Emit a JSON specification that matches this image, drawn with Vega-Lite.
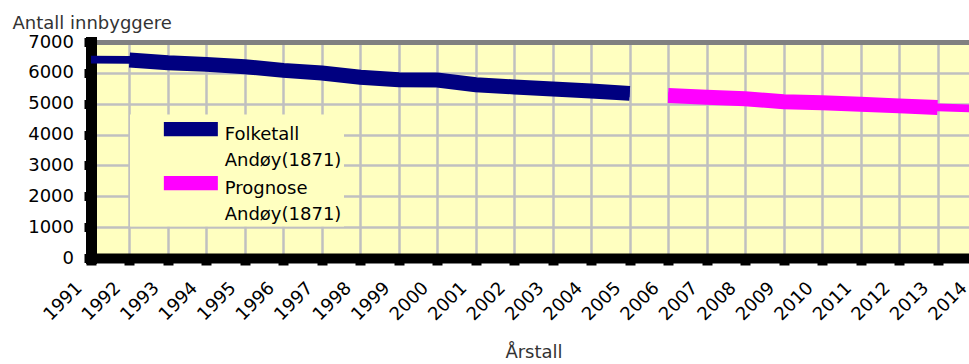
{
  "$schema": "https://vega.github.io/schema/vega-lite/v6.json",
  "autosize": {"type": "none"},
  "padding": {"left": 91, "top": 42, "right": 0, "bottom": 106},
  "width": 878,
  "height": 216,
  "background": "white",
  "data": {
    "values": [
      {"year": 1991, "value": 6430, "series": "Folketall Andøy(1871)"},
      {"year": 1992, "value": 6420, "series": "Folketall Andøy(1871)"},
      {"year": 1993, "value": 6330, "series": "Folketall Andøy(1871)"},
      {"year": 1994, "value": 6275, "series": "Folketall Andøy(1871)"},
      {"year": 1995, "value": 6200, "series": "Folketall Andøy(1871)"},
      {"year": 1996, "value": 6080, "series": "Folketall Andøy(1871)"},
      {"year": 1997, "value": 5995, "series": "Folketall Andøy(1871)"},
      {"year": 1998, "value": 5860, "series": "Folketall Andøy(1871)"},
      {"year": 1999, "value": 5775, "series": "Folketall Andøy(1871)"},
      {"year": 2000, "value": 5765, "series": "Folketall Andøy(1871)"},
      {"year": 2001, "value": 5615, "series": "Folketall Andøy(1871)"},
      {"year": 2002, "value": 5545, "series": "Folketall Andøy(1871)"},
      {"year": 2003, "value": 5475, "series": "Folketall Andøy(1871)"},
      {"year": 2004, "value": 5410, "series": "Folketall Andøy(1871)"},
      {"year": 2005, "value": 5335, "series": "Folketall Andøy(1871)"},
      {"year": 2006, "value": 5265, "series": "Prognose Andøy(1871)"},
      {"year": 2007, "value": 5210, "series": "Prognose Andøy(1871)"},
      {"year": 2008, "value": 5160, "series": "Prognose Andøy(1871)"},
      {"year": 2009, "value": 5065, "series": "Prognose Andøy(1871)"},
      {"year": 2010, "value": 5035, "series": "Prognose Andøy(1871)"},
      {"year": 2011, "value": 4985, "series": "Prognose Andøy(1871)"},
      {"year": 2012, "value": 4930, "series": "Prognose Andøy(1871)"},
      {"year": 2013, "value": 4880, "series": "Prognose Andøy(1871)"},
      {"year": 2014, "value": 4840, "series": "Prognose Andøy(1871)"}
    ]
  },
  "encoding": {
    "x": {
      "field": "year",
      "type": "quantitative",
      "scale": {"domain": [1991, 2014], "range": [0, 885], "nice": false, "zero": false},
      "axis": {
        "values": [1991,1992,1993,1994,1995,1996,1997,1998,1999,2000,2001,2002,2003,2004,2005,2006,2007,2008,2009,2010,2011,2012,2013,2014],
        "format": "d",
        "labelAngle": -45,
        "labelAlign": "right",
        "labelBaseline": "middle",
        "labelOffset": -12,
        "labelPadding": 20,
        "labelOverlap": false,
        "labelFlush": false,
        "labelBound": false,
        "tickSize": 7,
        "tickWidth": 10,
        "tickColor": "black",
        "domainColor": "black",
        "domainWidth": 10,
        "domainCap": "square",
        "grid": true,
        "gridColor": "#C0C0C0",
        "gridWidth": 2.5,
        "title": "Årstall",
        "titleBaseline": "alphabetic",
        "titleY": 99
      }
    },
    "y": {
      "field": "value",
      "type": "quantitative",
      "scale": {"domain": [0, 7000], "nice": false},
      "axis": {
        "values": [0,1000,2000,3000,4000,5000,6000,7000],
        "format": "d",
        "labelPadding": 10.5,
        "labelBaseline": "middle",
        "tickSize": 7,
        "tickWidth": 9,
        "tickColor": "black",
        "domainColor": "black",
        "domainWidth": 11,
        "domainCap": "square",
        "grid": true,
        "gridColor": {"condition": {"test": "datum.value == 7000", "value": "#808080"}, "value": "#C0C0C0"},
        "gridWidth": {"condition": {"test": "datum.value == 7000", "value": 5}, "value": 2.5},
        "title": "Antall innbyggere",
        "titleAngle": 0,
        "titleAlign": "left",
        "titleBaseline": "alphabetic",
        "titleX": -79,
        "titleY": -14
      }
    },
    "color": {
      "field": "series",
      "type": "nominal",
      "scale": {"domain": ["Folketall Andøy(1871)", "Prognose Andøy(1871)"], "range": ["#000080", "#FF00FF"]},
      "legend": {
        "orient": "none",
        "legendX": 39,
        "legendY": 72.5,
        "title": null,
        "fillColor": "#FFFFC0",
        "padding": 2,
        "symbolType": "M-27,3.65H27",
        "symbolSize": 4,
        "symbolStrokeWidth": 14.3,
        "symbolOffset": 49.85,
        "labelOffset": 24.85,
        "labelBaseline": "top",
        "labelExpr": "split(datum.label, ' ')",
        "labelFont": "DejaVu Sans",
        "labelFontSize": 18,
        "labelColor": "black",
        "labelLimit": 300,
        "rowPadding": -18.3
      }
    }
  },
  "layer": [
    {"mark": {"type": "line", "strokeWidth": 7.6, "strokeJoin": "miter", "strokeCap": "butt"}},
    {
      "transform": [{"filter": "datum.year >= 1992 && datum.year <= 2013"}],
      "mark": {"type": "line", "strokeWidth": 15, "strokeJoin": "miter", "strokeCap": "butt"}
    }
  ],
  "config": {
    "font": "DejaVu Sans",
    "view": {"fill": "#FFFFC0", "stroke": null},
    "axis": {
      "labelFont": "DejaVu Sans",
      "labelFontSize": 18,
      "labelColor": "black",
      "titleFont": "DejaVu Sans",
      "titleFontSize": 18,
      "titleFontWeight": "normal",
      "titleColor": "#333333"
    },
    "style": {"guide-label": {"lineHeight": 26.5}}
  }
}
